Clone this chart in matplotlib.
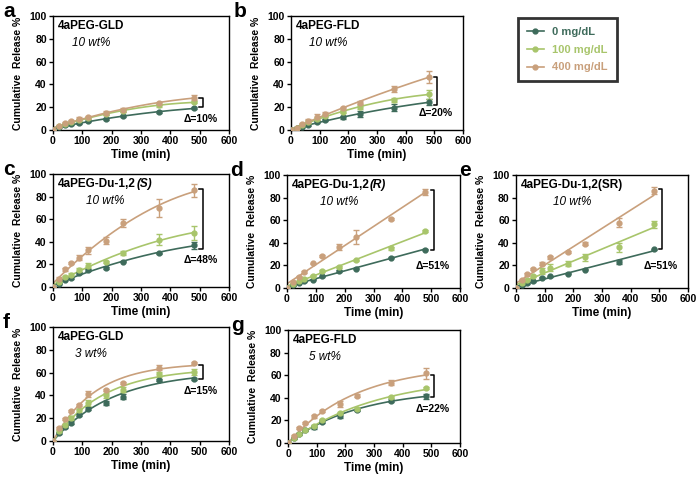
import numpy as np
import matplotlib.pyplot as plt
from matplotlib.lines import Line2D

plt.rcParams['font.family'] = ['Liberation Sans', 'DejaVu Sans']
plt.rcParams['font.weight'] = 'bold'
plt.rcParams['axes.linewidth'] = 1.0

# Sampling times (min), shared by every panel.
time_min = [0, 20, 40, 60, 90, 120, 180, 240, 360, 480]

# Series labels and colours.
conc_labels = ["0 mg/dL", "100 mg/dL", "400 mg/dL"]
colors = ["#3e6b5b", "#a8c56b", "#c9a07c"]

# Panel a: 4aPEG-GLD 10 wt%
a_0 = [0, 3, 4, 5, 6, 7.5, 9.5, 12, 16, 19]
a_100 = [0, 3.5, 5.5, 7, 9, 10.5, 14, 16.5, 21.5, 24.5]
a_400 = [0, 3.5, 6, 7.5, 10, 11, 15, 17.5, 23.5, 28.5]
a_0_err = [0, 0.5, 0.5, 0.5, 0.5, 0.5, 1, 1, 1, 1]
a_100_err = [0, 0.5, 1, 1, 1, 1, 1, 1, 1, 1]
a_400_err = [0, 0.5, 1, 1, 1.5, 1, 1.5, 1.5, 1.5, 2]

# Panel b: 4aPEG-FLD 10 wt%
b_0 = [0, 2, 3, 4.5, 7, 8.5, 11, 14, 19.5, 24.5]
b_100 = [0, 2, 4.5, 7, 10, 12.5, 16, 20, 26.5, 31.5]
b_400 = [0, 2, 5, 8, 11.5, 14, 19, 24, 36, 46.5]
b_0_err = [0, 0.5, 0.5, 1, 1, 1, 1, 2.5, 3, 2.5]
b_100_err = [0, 0.5, 1, 2, 1.5, 1.5, 1.5, 2, 2, 4]
b_400_err = [0, 0.5, 1, 1.5, 2.5, 2, 1.5, 1.5, 3, 5]

# Panel c: 4aPEG-Du-1,2(S) 10 wt%
c_0 = [0, 3, 6.5, 8, 12.5, 15, 16.5, 22.5, 30, 37]
c_100 = [0, 4.5, 9, 11, 15, 19, 22, 30, 42, 48]
c_400 = [0, 7.5, 15.5, 21, 26, 32.5, 41, 56.5, 70, 85.5]
c_0_err = [0, 0.5, 0.5, 0.5, 1, 0.5, 1, 0.5, 0.5, 3]
c_100_err = [0, 0.5, 1, 1.5, 1.5, 2.5, 1, 2, 5, 6]
c_400_err = [0, 1, 1, 1, 2.5, 3, 3, 3.5, 8, 6]

# Panel d: 4aPEG-Du-1,2(R) 10 wt%
d_0 = [0, 2.4, 4.5, 6, 7.4, 10.4, 15, 17, 26.7, 34]
d_100 = [0, 3.9, 6, 8.3, 11, 15, 18.7, 24.6, 35, 50.5]
d_400 = [0, 5.3, 9.8, 14.2, 21.7, 28, 36, 45, 61, 85]
d_0_err = [0, 0.5, 0.5, 0.5, 0.5, 0.5, 0.5, 0.5, 0.5, 0.5]
d_100_err = [0, 0.5, 0.5, 0.5, 0.5, 0.5, 1, 0.5, 1, 1]
d_400_err = [0, 0.5, 0.5, 0.5, 0.5, 1, 2.5, 6, 1, 3]

# Panel e: 4aPEG-Du-1,2(SR) 10 wt%
e_0 = [0, 2.4, 4.4, 6, 9, 10.4, 12.7, 16.3, 23, 34.3]
e_100 = [0, 4.4, 6.8, 10.4, 15, 18, 21.6, 27, 36, 56.5]
e_400 = [0, 6.8, 12, 17, 21.6, 27, 32, 39.3, 57.7, 86]
e_0_err = [0, 0.5, 0.5, 0.5, 0.5, 0.5, 0.5, 0.5, 1.5, 0.5]
e_100_err = [0, 0.5, 1, 1, 2.5, 3, 2.5, 3, 4, 3]
e_400_err = [0, 1, 1, 1, 1, 1, 1, 1, 4, 3]

# Panel f: 4aPEG-GLD 3 wt%
f_0 = [0, 7.3, 12.3, 16, 22.5, 28.4, 33.3, 39, 53.8, 54.7]
f_100 = [0, 8.8, 13.7, 20.2, 27, 33.3, 40, 45, 58.5, 60.5]
f_400 = [0, 11.7, 19.6, 26.3, 31.3, 41, 45, 51, 64.3, 68.7]
f_0_err = [0, 1, 1, 1.5, 1, 1, 1.5, 2, 1, 1]
f_100_err = [0, 1, 1, 1.5, 1.5, 3, 2, 2, 2, 3]
f_400_err = [0, 1, 1, 1, 1, 2.5, 1, 1, 2, 1]

# Panel g: 4aPEG-FLD 5 wt%
g_0 = [0, 4.4, 8.2, 11.2, 14, 19, 24, 29.4, 37.6, 41.2]
g_100 = [0, 4.4, 8.2, 11.8, 15.3, 20.6, 26.5, 30, 40.6, 48.5]
g_400 = [0, 6.5, 13.2, 17.6, 23.5, 28, 34.4, 42, 53.5, 61.8]
g_0_err = [0, 1, 1, 1, 1.5, 1, 1.5, 1, 1, 2]
g_100_err = [0, 0.5, 1, 1, 1, 1, 1, 1, 1, 1]
g_400_err = [0, 1, 1, 1, 1, 1, 2.5, 1.5, 2, 5]

# Panel annotations
panel_letters = ["a", "b", "c", "d", "e", "f", "g"]
gel_names = ["4aPEG-GLD", "4aPEG-FLD", "4aPEG-Du-1,2", "4aPEG-Du-1,2",
             "4aPEG-Du-1,2(SR)", "4aPEG-GLD", "4aPEG-FLD"]
gel_suffix = ["", "", "(S)", "(R)", "", "", ""]
gel_wt = ["10 wt%", "10 wt%", "10 wt%", "10 wt%", "10 wt%", "3 wt%", "5 wt%"]
delta_text = ["Δ=10%", "Δ=20%", "Δ=48%", "Δ=51%", "Δ=51%", "Δ=15%", "Δ=22%"]
bracket_lo = [20.5, 22, 34, 34, 34.3, 54.7, 40.6]
bracket_hi = [27.8, 46.5, 87, 87, 87.6, 66.4, 60.3]
delta_y = [10, 15, 23.7, 19.5, 19.5, 43.6, 30.3]
# fit model per panel: polynomial degree, or "exp" for first-order release
fit_model = [2, 2, 2, 1, 1, "exp", "exp"]

panel_data = [
    (a_0, a_100, a_400, a_0_err, a_100_err, a_400_err),
    (b_0, b_100, b_400, b_0_err, b_100_err, b_400_err),
    (c_0, c_100, c_400, c_0_err, c_100_err, c_400_err),
    (d_0, d_100, d_400, d_0_err, d_100_err, d_400_err),
    (e_0, e_100, e_400, e_0_err, e_100_err, e_400_err),
    (f_0, f_100, f_400, f_0_err, f_100_err, f_400_err),
    (g_0, g_100, g_400, g_0_err, g_100_err, g_400_err),
]


def fit_curve(t, y, model, t_fit):
    if model == "exp":
        best = None
        for k in np.linspace(0.0005, 0.02, 400):
            basis = 1 - np.exp(-k * t)
            A = np.dot(basis, y) / np.dot(basis, basis)
            sse = np.sum((A * basis - y) ** 2)
            if best is None or sse < best[0]:
                best = (sse, A, k)
        return best[1] * (1 - np.exp(-best[2] * t_fit))
    coef = np.polyfit(t, y, model)
    return np.polyval(coef, t_fit)


W, H = 696, 479
# axes boxes in pixels: left, right, top, bottom
boxes = [(53, 229, 16, 130), (291, 463, 16, 130),
         (53, 229, 174, 287), (287, 460, 175, 288), (516, 688, 175, 288),
         (53, 229, 327, 441), (288, 460, 330, 443)]

fig = plt.figure(figsize=(W / 100, H / 100), dpi=100)
t = np.array(time_min, dtype=float)
t_fit = np.linspace(0, 480, 200)

axes = []
for i, (l, r, tp, bt) in enumerate(boxes):
    ax = fig.add_axes([l / W, 1 - bt / H, (r - l) / W, (bt - tp) / H])
    axes.append(ax)
    d = panel_data[i]
    for k in range(3):
        y = np.array(d[k], dtype=float)
        err = d[k + 3]
        ax.plot(t_fit, fit_curve(t, y, fit_model[i], t_fit), color=colors[k], lw=1.2, zorder=2)
        ax.errorbar(t, y, yerr=err, fmt='o', color=colors[k], ms=3.5,
                    elinewidth=1, capsize=2, capthick=1, zorder=3)
    ax.set_xlim(0, 600)
    ax.set_ylim(0, 100)
    ax.set_xticks(range(0, 601, 100))
    ax.set_yticks(range(0, 101, 20))
    ax.tick_params(labelsize=7.5, length=3, width=1, pad=1.5)
    for lab in ax.get_xticklabels() + ax.get_yticklabels():
        lab.set_fontweight('bold')
    ax.set_xlabel("Time (min)", fontsize=8.5, fontweight='bold', labelpad=2)
    ax.set_ylabel("Cumulative  Release %", fontsize=7.5, fontweight='bold', labelpad=5)

    # bracket
    xb = 510
    ax.plot([xb - 12, xb, xb, xb - 12], [bracket_lo[i], bracket_lo[i], bracket_hi[i], bracket_hi[i]],
            color='black', lw=1.1, clip_on=False)
    ax.text(505, delta_y[i], delta_text[i], fontsize=7.5, fontweight='bold',
            ha='center', va='center')

    # gel name and concentration
    t1 = ax.text(0.03, 0.91, gel_names[i], transform=ax.transAxes, fontsize=8.5,
                 fontweight='bold', ha='left', va='center')
    parts = [t1]
    if gel_suffix[i]:
        t2 = ax.annotate(gel_suffix[i], xy=(1, 0.5), xycoords=t1, fontsize=8.5,
                         fontweight='bold', fontstyle='italic', ha='left', va='center')
        parts.append(t2)
    ax._title_parts = parts

    # panel letter
    fig.text(max(l - 57, 3) / W, 1 - (tp - 14) / H, panel_letters[i], fontsize=15,
             fontweight='bold', ha='left', va='top')

fig.canvas.draw()
renderer = fig.canvas.get_renderer()
for i, ax in enumerate(axes):
    bbs = [p.get_window_extent(renderer) for p in ax._title_parts]
    x0 = min(b.x0 for b in bbs)
    x1 = max(b.x1 for b in bbs)
    y0 = min(b.y0 for b in bbs)
    xc, yc = ax.transAxes.inverted().transform(((x0 + x1) / 2, y0))
    ax.text(xc, yc - 0.04, gel_wt[i], transform=ax.transAxes, fontsize=8.5,
            fontweight='normal', fontstyle='italic', ha='center', va='top')

handles = [Line2D([0], [0], color=c, marker='o', ms=3.5, lw=1.2) for c in colors]
leg = fig.legend(handles, conc_labels, loc='upper left',
                 bbox_to_anchor=(518 / W, 1 - 18 / H), frameon=True, fancybox=False,
                 edgecolor='black', labelcolor='linecolor', handlelength=1.5,
                 prop={'weight': 'bold', 'size': 8}, labelspacing=0.7,
                 borderpad=0.8, borderaxespad=0)
leg.get_frame().set_linewidth(2)

fig.savefig("out.png", dpi=100)
